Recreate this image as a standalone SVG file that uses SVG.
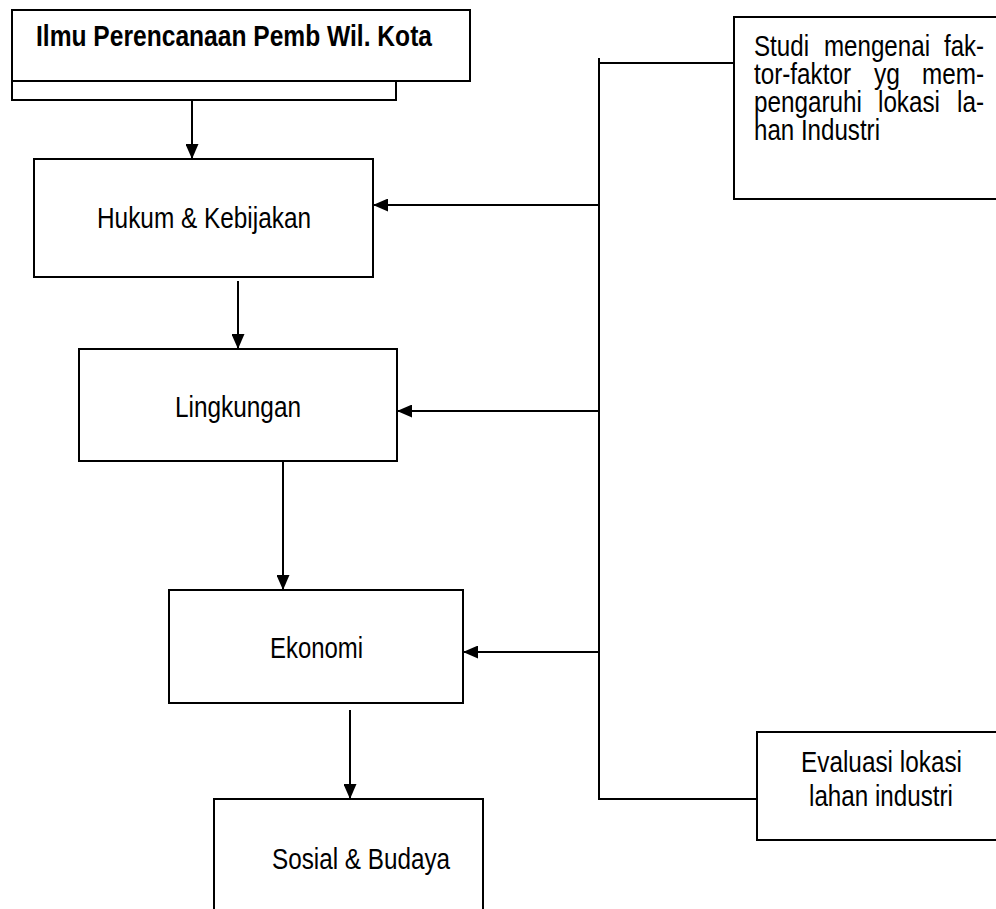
<svg xmlns="http://www.w3.org/2000/svg" width="996" height="909" viewBox="0 0 996 909">
<style>
.box{fill:#fff;stroke:#000;stroke-width:2}
.ln{fill:none;stroke:#000;stroke-width:2}
.t{font-family:"Liberation Sans Narrow","Liberation Sans",Arial,sans-serif;font-size:30px;fill:#000}
.b{font-weight:bold}
</style>
<defs>
<marker id="ah" markerUnits="userSpaceOnUse" markerWidth="15" markerHeight="13" refX="15" refY="6.5" orient="auto">
<path d="M0,0 L15,6.5 L0,13 Z" fill="#000"/>
</marker>
</defs>
<rect width="996" height="909" fill="#fff"/>
<g id="connectors">
<line class="ln" x1="192" y1="93" x2="192" y2="159" marker-end="url(#ah)"/>
<line class="ln" x1="238" y1="281" x2="238" y2="349" marker-end="url(#ah)"/>
<line class="ln" x1="283" y1="461" x2="283" y2="590" marker-end="url(#ah)"/>
<line class="ln" x1="350" y1="710" x2="350" y2="799" marker-end="url(#ah)"/>
<line class="ln" x1="599" y1="58" x2="599" y2="800"/>
<line class="ln" x1="599" y1="63" x2="734" y2="63"/>
<line class="ln" x1="598" y1="799" x2="757" y2="799"/>
<line class="ln" x1="599" y1="205" x2="373" y2="205" marker-end="url(#ah)"/>
<line class="ln" x1="599" y1="411" x2="397" y2="411" marker-end="url(#ah)"/>
<line class="ln" x1="599" y1="652" x2="463" y2="652" marker-end="url(#ah)"/>
</g>
<g id="ilmu">
<rect class="box" x="12" y="81" width="384" height="19"/>
<rect class="box" x="12" y="10" width="458" height="71"/>
<text class="t b" x="36" y="46" textLength="396" lengthAdjust="spacingAndGlyphs">Ilmu Perencanaan Pemb Wil. Kota</text>
</g>
<g id="hukum">
<rect class="box" x="34" y="159" width="339" height="118"/>
<text class="t" x="97" y="228" textLength="214" lengthAdjust="spacingAndGlyphs">Hukum &amp; Kebijakan</text>
</g>
<g id="lingkungan">
<rect class="box" x="79" y="349" width="318" height="112"/>
<text class="t" x="175" y="417" textLength="126" lengthAdjust="spacingAndGlyphs">Lingkungan</text>
</g>
<g id="ekonomi">
<rect class="box" x="169" y="590" width="294" height="113"/>
<text class="t" x="270" y="658" textLength="93" lengthAdjust="spacingAndGlyphs">Ekonomi</text>
</g>
<g id="sosial">
<rect class="box" x="214" y="799" width="269" height="120"/>
<text class="t" x="272" y="869" textLength="178" lengthAdjust="spacingAndGlyphs">Sosial &amp; Budaya</text>
</g>
<g id="studi">
<rect class="box" x="734" y="17" width="280" height="182"/>
<text class="t" y="56"><tspan x="754" textLength="55" lengthAdjust="spacingAndGlyphs">Studi</tspan><tspan x="824" textLength="106" lengthAdjust="spacingAndGlyphs">mengenai</tspan><tspan x="944" textLength="40" lengthAdjust="spacingAndGlyphs">fak-</tspan></text>
<text class="t" y="84"><tspan x="754" textLength="97" lengthAdjust="spacingAndGlyphs">tor-faktor</tspan><tspan x="874" textLength="26" lengthAdjust="spacingAndGlyphs">yg</tspan><tspan x="922" textLength="62" lengthAdjust="spacingAndGlyphs">mem-</tspan></text>
<text class="t" y="112"><tspan x="754" textLength="108" lengthAdjust="spacingAndGlyphs">pengaruhi</tspan><tspan x="878" textLength="62" lengthAdjust="spacingAndGlyphs">lokasi</tspan><tspan x="957" textLength="27" lengthAdjust="spacingAndGlyphs">la-</tspan></text>
<text class="t" x="754" y="140" textLength="126" lengthAdjust="spacingAndGlyphs">han Industri</text>
</g>
<g id="evaluasi">
<rect class="box" x="757" y="732" width="260" height="108"/>
<text class="t" x="801" y="772" textLength="161" lengthAdjust="spacingAndGlyphs">Evaluasi lokasi</text>
<text class="t" x="809" y="806" textLength="144" lengthAdjust="spacingAndGlyphs">lahan industri</text>
</g>
</svg>
